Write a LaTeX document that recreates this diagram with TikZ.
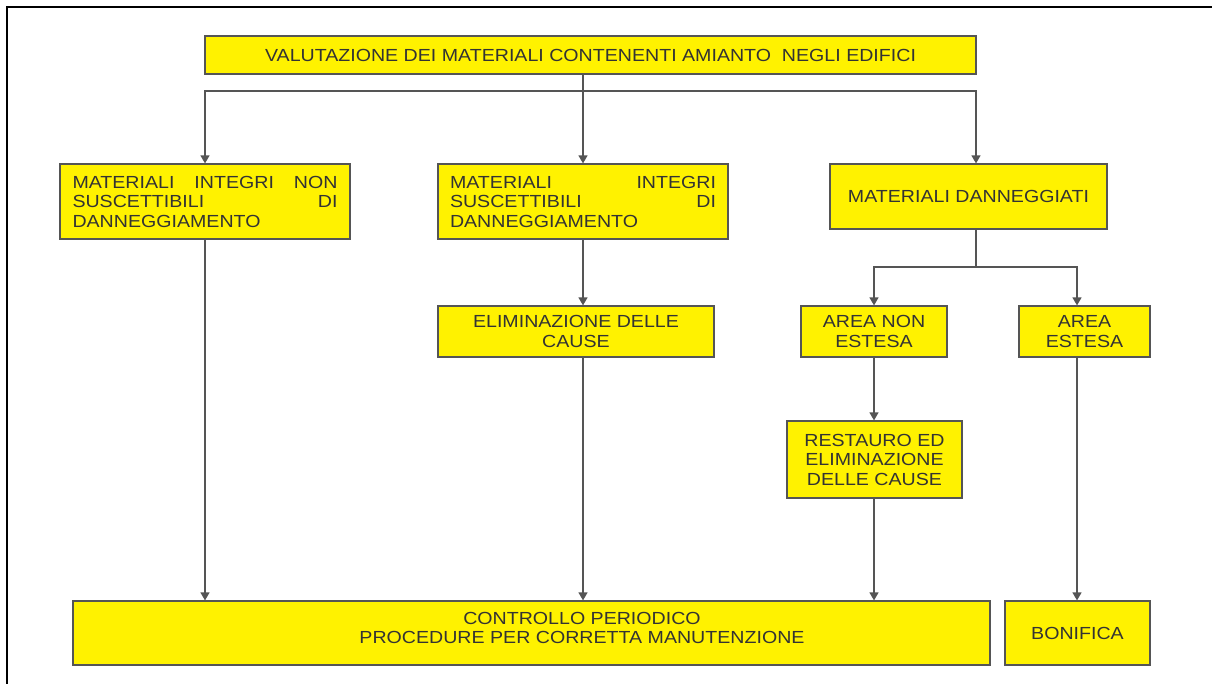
\documentclass[tikz,border=0pt]{standalone}
\usepackage{fontspec}
\setmainfont{Liberation Sans}[FakeStretch=1.12]
\usetikzlibrary{arrows.meta}
\definecolor{boxyellow}{HTML}{FFF200}
\definecolor{txt}{HTML}{333333}
\definecolor{edge}{HTML}{555555}
\begin{document}
\begin{tikzpicture}[x=1pt,y=-1pt,
  box/.style={draw=edge, line width=1.2pt, fill=boxyellow, text=txt, inner sep=0pt,
              font=\fontsize{17.5}{19.5}\selectfont},
  conn/.style={draw=edge, line width=1.3pt},
  arr/.style={conn, -{Triangle[width=9pt,length=8pt]}}]
\useasboundingbox (0,0) rectangle (1212,684);
\draw[line width=2.6pt] (7,684) -- (7,7) -- (1212,7);

% nodes
\node[box, minimum width=771pt, minimum height=38pt] (top) at (590.5,55)
  {VALUTAZIONE DEI MATERIALI CONTENENTI AMIANTO\ \ NEGLI EDIFICI};
\node[box, minimum width=290pt, minimum height=75pt, text width=265pt] (b1) at (205,201.5)
  {MATERIALI\hfill INTEGRI\hfill NON\\SUSCETTIBILI\hfill DI\\DANNEGGIAMENTO};
\node[box, minimum width=290pt, minimum height=75pt, text width=266pt] (b2) at (583,201.5)
  {MATERIALI\hfill INTEGRI\\SUSCETTIBILI\hfill DI\\DANNEGGIAMENTO};
\node[box, minimum width=277pt, minimum height=65pt] (b3) at (968.5,196.5)
  {MATERIALI DANNEGGIATI};
\node[box, minimum width=276pt, minimum height=51pt, align=center] (elim) at (576,331.5)
  {ELIMINAZIONE DELLE\\CAUSE};
\node[box, minimum width=146pt, minimum height=51pt, align=center] (anon) at (874,331.5)
  {AREA NON\\ESTESA};
\node[box, minimum width=131pt, minimum height=51pt, align=center] (aest) at (1084.5,331.5)
  {AREA\\ESTESA};
\node[box, minimum width=175pt, minimum height=77pt, align=center] (rest) at (874.5,459.5)
  {RESTAURO ED\\ELIMINAZIONE\\DELLE CAUSE};
\node[box, minimum width=917pt, minimum height=64pt] (ctrl) at (531.5,633)
  {\hspace*{101pt}\raisebox{-1.5pt}[0pt][0pt]{\begin{tabular}{@{}c@{}}CONTROLLO PERIODICO\\PROCEDURE PER CORRETTA MANUTENZIONE\end{tabular}}};
\node[box, minimum width=145pt, minimum height=64pt] (bon) at (1077.5,633)
  {BONIFICA};

% helper coordinates
\coordinate (xA) at (583,0);
\coordinate (xB) at (976,0);
\coordinate (xC) at (874,0);
\coordinate (xD) at (1077,0);
\coordinate (j1) at (583,91);
\coordinate (j2) at (976,267);

% connectors
\draw[arr] (top.south -| xA) -- (b2.north -| xA);
\draw[arr] (j1) -| (b1.north);
\draw[arr] (j1) -| (b3.north -| xB);
\draw[arr] (b1.south) -- (ctrl.north -| b1.south);
\draw[arr] (b2.south -| xA) -- (elim.north -| xA);
\draw[arr] (elim.south -| xA) -- (ctrl.north -| xA);
\draw[conn] (b3.south -| xB) -- (j2);
\draw[arr] (j2) -| (anon.north);
\draw[arr] (j2) -| (aest.north -| xD);
\draw[arr] (anon.south) -- (rest.north -| anon.south);
\draw[arr] (rest.south -| xC) -- (ctrl.north -| xC);
\draw[arr] (aest.south -| xD) -- (bon.north -| xD);
\end{tikzpicture}
\end{document}
